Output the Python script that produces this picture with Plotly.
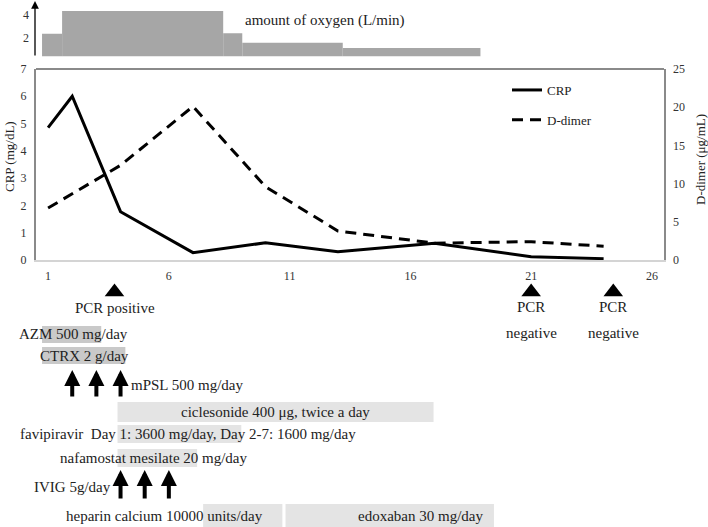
import plotly.graph_objects as go

# ---------------- data ----------------
crp_days = [1, 2, 4, 7, 10, 13, 17, 21, 24]
crp_vals = [4.85, 6.0, 1.77, 0.27, 0.63, 0.3, 0.61, 0.12, 0.05]

dd_days = [1, 4, 7, 10, 13, 17, 21, 24]
dd_vals = [6.8, 12.4, 20.1, 9.6, 3.8, 2.2, 2.4, 1.8]

oxy_start = [0.75, 1.58, 8.25, 9.04, 13.2]
oxy_end = [1.58, 8.25, 9.04, 13.2, 18.9]
oxy_flow = [2.0, 4.0, 2.05, 1.2, 0.75]

pcr_days = [3.75, 21.0, 24.4]
pcr_labels = ["PCR positive", "PCR\nnegative", "PCR\nnegative"]

tx_names = ["AZM", "CTRX", "ciclesonide", "favipiravir", "nafamostat", "heparin", "edoxaban"]
tx_start = [0.75, 0.75, 3.875, 3.875, 3.875, 7.42, 10.83]
tx_end = [3.2, 4.2, 16.96, 9.0, 7.17, 10.7, 19.46]

mpsl_days = [2, 3, 4]
ivig_days = [4, 5, 6]

x_ticks = [1, 6, 11, 16, 21, 26]

# ---------------- layout helpers ----------------
W, H = 708, 527
PL, PR = 36, 664


def pxx(x):
    return (x - PL) / (PR - PL)


def pyy(y):
    return (H - y) / H


FONT = "Liberation Serif"
TXT = "#222222"

# lanes (vertical positions in the treatment panel, pixel-like units)
tx_lane = [334.5, 355.5, 412, 434, 458, 515.5, 515.5]
tx_height = [17, 17, 20, 18, 18, 23, 23]
tx_color = ["#c9c9c9", "#c9c9c9", "#e4e4e4", "#e4e4e4", "#e4e4e4", "#e4e4e4", "#e4e4e4"]

fig = go.Figure()

# main lines
fig.add_trace(go.Scatter(x=crp_days, y=crp_vals, mode="lines", name="CRP",
                         line=dict(color="black", width=3), xaxis="x", yaxis="y",
                         legendgroup="a"))
fig.add_trace(go.Scatter(x=dd_days, y=dd_vals, mode="lines", name="D-dimer",
                         line=dict(color="black", width=3, dash="11px,7px"),
                         xaxis="x", yaxis="y2", legendgroup="b"))

# oxygen bars
oxy_center = [(s + e) / 2 for s, e in zip(oxy_start, oxy_end)]
oxy_width = [e - s for s, e in zip(oxy_start, oxy_end)]
fig.add_trace(go.Bar(x=oxy_center, y=oxy_flow, width=oxy_width, marker=dict(color="#a6a6a6", line=dict(width=0)),
                     xaxis="x", yaxis="y3", showlegend=False))

# treatment boxes
fig.add_trace(go.Bar(orientation="h", y=tx_lane, base=tx_start,
                     x=[e - s for s, e in zip(tx_start, tx_end)], width=tx_height,
                     marker=dict(color=tx_color, line=dict(width=0)),
                     xaxis="x", yaxis="y4", showlegend=False))

# PCR triangles
fig.add_trace(go.Scatter(x=pcr_days, y=[292] * len(pcr_days), mode="markers",
                         marker=dict(symbol="triangle-up", size=17, color="black"),
                         xaxis="x", yaxis="y4", showlegend=False, cliponaxis=False))

annotations = []


def label(text, x, y, anchor="left", size=15, xref="paper", yref="paper"):
    annotations.append(dict(text=text, x=x, y=y, xref=xref, yref=yref, xanchor=anchor,
                            yanchor="middle", showarrow=False,
                            font=dict(family=FONT, size=size, color=TXT)))


# PCR labels
for d, t in zip(pcr_days, pcr_labels):
    parts = t.split("\n")
    if len(parts) == 1:
        label(parts[0], d, pyy(308), anchor="center", xref="x")
    else:
        label(parts[0], d, pyy(307), anchor="center", xref="x")
        label(parts[1], d, pyy(333), anchor="center", xref="x")

label("AZM 500 mg/day", pxx(17), pyy(334))
label("CTRX 2 g/day", pxx(38), pyy(356))
label("mPSL 500 mg/day", pxx(129), pyy(385))
label("ciclesonide 400 \u03bcg, twice a day", pxx(275), pyy(412), anchor="center")
label("favipiravir\u00a0\u00a0Day 1: 3600 mg/day, Day 2-7: 1600 mg/day", pxx(18), pyy(434))
label("nafamostat mesilate 20 mg/day", pxx(58), pyy(458))
label("IVIG 5g/day", pxx(32), pyy(487))
label("heparin calcium 10000 units/day", pxx(64), pyy(516))
label("edoxaban 30 mg/day", pxx(420), pyy(516), anchor="center")
label("amount of oxygen (L/min)", pxx(243), pyy(21))

# axis titles
annotations.append(dict(text="CRP (mg/dL)", x=pxx(9), y=pyy(157), xref="paper", yref="paper",
                        textangle=-90, showarrow=False, xanchor="center", yanchor="middle",
                        font=dict(family=FONT, size=13, color=TXT)))
annotations.append(dict(text="D-dimer (\u03bcg/mL)", x=pxx(700), y=pyy(160), xref="paper", yref="paper",
                        textangle=-90, showarrow=False, xanchor="center", yanchor="middle",
                        font=dict(family=FONT, size=13, color=TXT)))

# arrows
for d in mpsl_days:
    annotations.append(dict(x=d, y=370, xref="x", yref="y4", ax=0, ay=28, text="",
                            showarrow=True, arrowhead=2, arrowsize=0.8, arrowwidth=4,
                            arrowcolor="black"))
for d in ivig_days:
    annotations.append(dict(x=d, y=470, xref="x", yref="y4", ax=0, ay=30, text="",
                            showarrow=True, arrowhead=2, arrowsize=0.8, arrowwidth=4,
                            arrowcolor="black"))

# oxygen axis arrow
annotations.append(dict(x=pxx(35), y=pyy(1), xref="paper", yref="paper", ax=0, ay=56, text="",
                        showarrow=True, arrowhead=2, arrowsize=1.2, arrowwidth=1.3,
                        arrowcolor="black"))

tickfont = dict(family=FONT, size=12, color="#333333")

fig.update_layout(
    width=W, height=H,
    margin=dict(l=PL, r=W - PR, t=0, b=0, autoexpand=False),
    paper_bgcolor="white", plot_bgcolor="rgba(0,0,0,0)",
    barmode="overlay",
    showlegend=True,
    legend=dict(x=pxx(507), y=pyy(75), xanchor="left", yanchor="top",
                bgcolor="rgba(0,0,0,0)", font=dict(family=FONT, size=13, color=TXT),
                tracegroupgap=10, itemwidth=30),
    xaxis=dict(range=[0.5, 26.5], tickvals=x_ticks, ticktext=[str(t) for t in x_ticks],
               showgrid=False, zeroline=False, showline=True, linecolor="#d4d4d4", linewidth=2,
               ticks="", tickfont=tickfont, anchor="y", ticklabelstandoff=4),
    yaxis=dict(domain=[pyy(260), pyy(69)], range=[0, 7], dtick=1, showgrid=False, zeroline=False,
               showline=True, linecolor="#8a8a8a", linewidth=2, mirror=True, ticks="",
               tickfont=tickfont, ticklabelstandoff=5),
    yaxis2=dict(overlaying="y", side="right", range=[0, 25], dtick=5, showgrid=False,
                zeroline=False, showline=False, ticks="", tickfont=tickfont, ticklabelstandoff=8),
    yaxis3=dict(domain=[pyy(56.5), pyy(2)], range=[0, 4.78], tickvals=[2, 4], showgrid=False,
                zeroline=False, showline=False, ticks="", tickfont=tickfont, anchor="x",
                ticklabelstandoff=6, ticklabelshift=4),
    yaxis4=dict(domain=[0, pyy(262)], range=[527, 262], visible=False, anchor="x"),
    annotations=annotations,
    shapes=[dict(type="line", xref="x domain", yref="y domain", x0=0, x1=1, y0=1, y1=1,
                 line=dict(color="#8a8a8a", width=2))],
)

fig.write_html("out.html", config={"displayModeBar": False},
               post_script="document.body.style.margin='0';document.body.style.overflow='hidden';")
